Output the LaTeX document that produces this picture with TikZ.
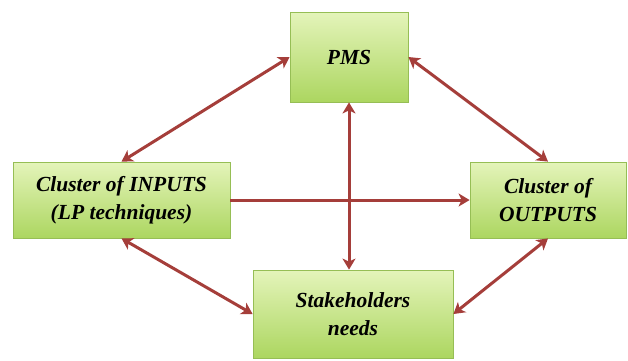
\documentclass[tikz,border=0pt]{standalone}
\usepackage{fontspec}
\setmainfont{Liberation Serif}
\usetikzlibrary{arrows.meta}
\definecolor{linkred}{RGB}{165,62,58}
\definecolor{boxtop}{RGB}{228,244,186}
\definecolor{boxbottom}{RGB}{172,214,96}
\definecolor{boxline}{RGB}{150,190,85}

\begin{document}
\begin{tikzpicture}[x=1pt,y=-1pt,
    box/.style={draw=boxline, line width=0.8pt,
        top color=boxtop, bottom color=boxbottom,
        font=\bfseries\itshape\fontsize{21.5}{28.5}\selectfont, align=center,
        inner sep=0pt},
    link/.style={draw=linkred, line width=3pt,
        {Stealth[width=13pt,length=11pt,inset=3pt]}-{Stealth[width=13pt,length=11pt,inset=3pt]}},
    oneway/.style={link, -{Stealth[width=13pt,length=11pt,inset=3pt]}}]
    \useasboundingbox (0,0) rectangle (628,360);

    % Boxes
    \node[box, minimum width=118pt, minimum height=90pt] (pms) at (349,57) {PMS};
    \node[box, minimum width=217pt, minimum height=76pt] (inputs) at (121.5,200) {Cluster of INPUTS\\(LP techniques)};
    \node[box, minimum width=156pt, minimum height=76pt] (outputs) at (548,200) {Cluster of\\OUTPUTS};
    \node[box, minimum width=200pt, minimum height=88pt] (needs) at (353,314) {Stakeholders\\needs};

    % Links
    \draw[oneway] (inputs.east) -- (outputs.west);
    \draw[link] (pms.west) -- (inputs.north);
    \draw[link] (pms.east) -- (outputs.north);
    \draw[link] (pms.south) -- (pms.south |- needs.north);
    \draw[link] (inputs.south) -- (needs.west);
    \draw[link] (outputs.south) -- (needs.east);
\end{tikzpicture}
\end{document}
